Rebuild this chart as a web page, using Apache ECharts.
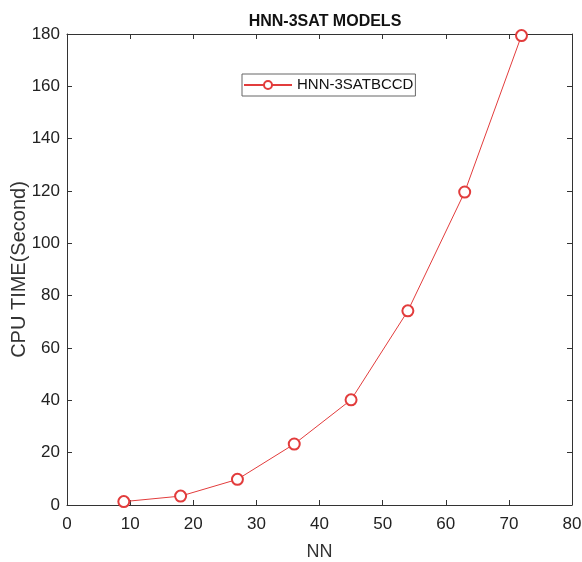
<!DOCTYPE html>
<html>
<head>
<meta charset="utf-8">
<script src="https://cdn.jsdelivr.net/npm/echarts@6/dist/echarts.min.js"></script>
<style>
    html, body { margin: 0; padding: 0; background: #fff; }
    #chart { width: 582px; height: 562px; }
</style>
</head>
<body>
<div id="chart"></div>
<script>
    // data
    const nn = [9, 18, 27, 36, 45, 54, 63, 72];
    const cpuTime = [1.3, 3.4, 9.8, 23.3, 40.2, 74.2, 119.6, 179.4];
    const seriesName = 'HNN-3SATBCCD';

    const font = '"Liberation Sans", Arial, sans-serif';
    const chart = echarts.init(document.getElementById('chart'));

    // shared look for the four sides of the box
    const boxAxis = {
        axisLine: { show: true, onZero: false, lineStyle: { color: '#333', width: 1 } },
        axisTick: { show: true, inside: true, length: 5, lineStyle: { color: '#333' } },
        splitLine: { show: false },
    };

    const option = {
        animation: false,
        title: {
            text: 'HNN-3SAT MODELS',
            left: 320,
            top: 9,
            textAlign: 'center',
            textStyle: { fontFamily: font, fontSize: 16, fontWeight: 'bold', color: '#111' },
        },
        grid: { left: 67, right: 10, top: 34, bottom: 57, containLabel: false, outerBoundsMode: 'none' },
        legend: {
            left: 242,
            top: 74,
            padding: [3, 2, 3, 1],
            itemWidth: 48,
            itemHeight: 10,
            borderColor: '#666',
            borderWidth: 1,
            textStyle: { fontFamily: font, fontSize: 15, color: '#111', lineHeight: 16 },
            data: [seriesName],
        },
        xAxis: [
            Object.assign({}, boxAxis, {
                type: 'value',
                min: 0,
                max: 80,
                interval: 10,
                name: 'NN',
                nameLocation: 'middle',
                nameGap: 38,
                nameMoveOverlap: false,
                nameTextStyle: { fontFamily: font, fontSize: 18, color: '#333' },
                axisLabel: { fontFamily: font, fontSize: 17, color: '#222', margin: 11 },
            }),
            Object.assign({}, boxAxis, {
                type: 'value', position: 'top', min: 0, max: 80, interval: 10,
                axisLabel: { show: false },
            }),
        ],
        yAxis: [
            Object.assign({}, boxAxis, {
                type: 'value',
                min: 0,
                max: 180,
                interval: 20,
                name: 'CPU TIME(Second)',
                nameLocation: 'middle',
                nameGap: 38,
                nameMoveOverlap: false,
                nameTextStyle: { fontFamily: font, fontSize: 20, color: '#333' },
                axisLabel: { fontFamily: font, fontSize: 17, color: '#222', margin: 7 },
            }),
            Object.assign({}, boxAxis, {
                type: 'value', position: 'right', min: 0, max: 180, interval: 20,
                axisLabel: { show: false },
            }),
        ],
        series: [
            {
                name: seriesName,
                type: 'line',
                data: nn.map((x, i) => [x, cpuTime[i]]),
                symbol: 'emptyCircle',
                symbolSize: 11,
                showAllSymbol: true,
                lineStyle: { color: '#e23c3c', width: 1 },
                itemStyle: { color: '#e23c3c', borderWidth: 1 },
                emphasis: { disabled: true },
            },
        ],
    };

    chart.setOption(option);
</script>
</body>
</html>
